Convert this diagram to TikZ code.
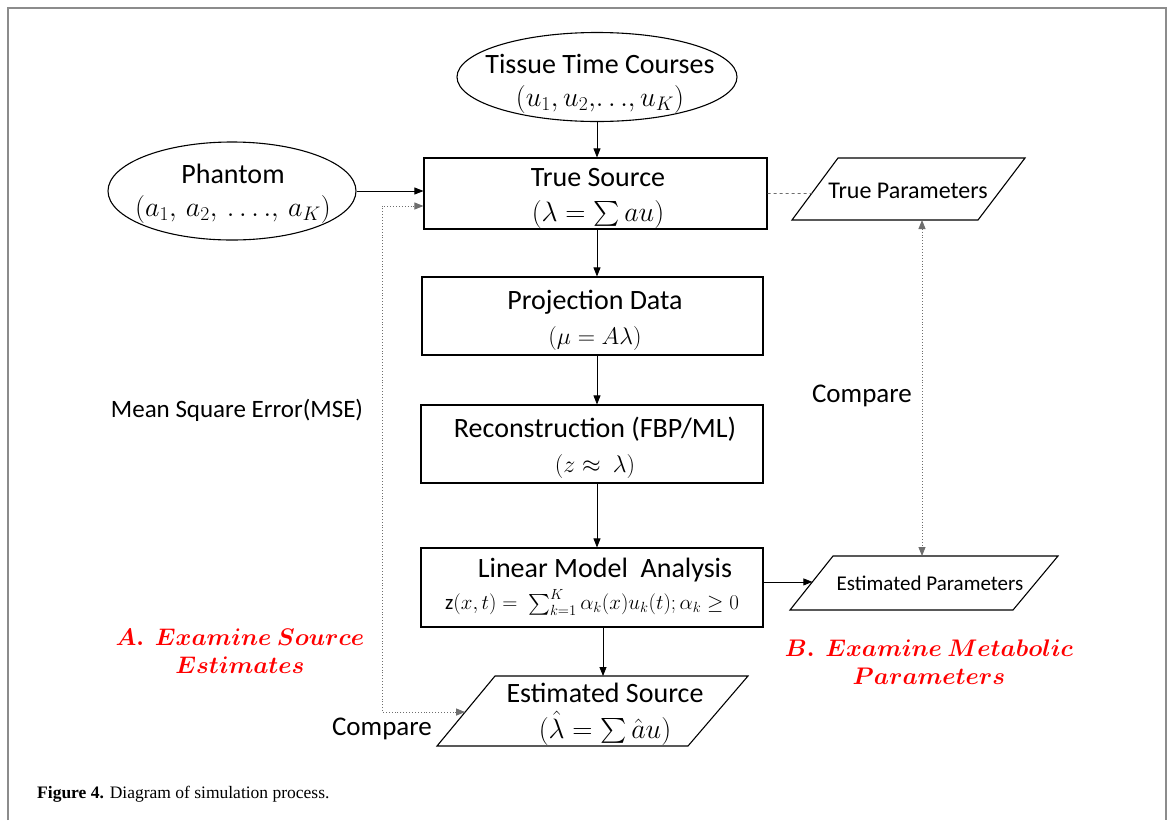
\RequirePackage{fix-cm}
\documentclass[tikz,border=0pt]{standalone}
\usepackage{amsmath}
\usepackage[no-math]{fontspec}
\setmainfont{Carlito}
\newfontfamily\capfont{Liberation Serif}
\usetikzlibrary{arrows.meta,shapes.geometric,calc}
\definecolor{framec}{HTML}{8C8C8C}
\definecolor{dotc}{HTML}{6E6E6E}
\definecolor{redt}{HTML}{FF0000}
\begin{document}
\begin{tikzpicture}[
  x=1pt, y=-1pt,
  box/.style={draw, line width=1.1pt, inner sep=0pt},
  ell/.style={draw, ellipse, line width=1.1pt, inner sep=0pt},
  para/.style={draw, line width=1.1pt, line join=miter},
  txt/.style={inner sep=0pt, align=center, font=\fontsize{28}{32}\selectfont},
  arr/.style={-{Triangle[length=9pt,width=7pt]}, line width=0.8pt},
  dotarr/.style={{Triangle[length=9pt,width=7pt]}-{Triangle[length=9pt,width=7pt]}, dotted, dotc, line width=0.9pt},
  dashln/.style={dashed, dotc, line width=0.9pt},
  lab/.style={inner sep=0pt, font=\fontsize{27}{31}\selectfont},
  redlab/.style={inner sep=0pt, align=center, text=redt, font=\fontsize{24}{28}\selectfont\boldmath},
]
\useasboundingbox (0,0) rectangle (1173,820);
\draw[framec, line width=1.5pt] (8,820) -- (8,8) -- (1166,8) -- (1166,820);

% ellipses
\node[ell, minimum width=280pt, minimum height=89pt] (ttc) at (597,77) {};
\node[txt] (ttct) at (600,84) {Tissue Time Courses\\[1pt]$(u_1, u_2,\!\ldots\!, u_K)$};
\node[ell, minimum width=248pt, minimum height=98pt] (ph) at (232,191) {};
\node[txt] (pht) at (233,194) {Phantom\\[1pt]$(a_1,\, a_2,\, \ldots.,\, a_K)$};

% boxes
\node[box, minimum width=343pt, minimum height=71pt] (ts) at (595.5,193.5) {};
\node[txt] (tst) at (598,198) {True Source\\[3pt]$(\lambda = \sum au)$};
\node[box, minimum width=341pt, minimum height=78pt] (pd) at (592.5,316) {};
\node[txt] (pdt) at (595,320) {Projection Data\\[3pt]{\fontsize{24}{28}\selectfont$(\mu = A\lambda)$}};
\node[box, minimum width=342pt, minimum height=78pt] (rc) at (592,444) {};
\node[txt] (rct) at (595,448) {Reconstruction (FBP/ML)\\[3pt]{\fontsize{24}{28}\selectfont$(z \approx\ \lambda)$}};
\node[box, minimum width=342pt, minimum height=79pt] (lm) at (592,587.5) {};
\node[txt] (lmt) at (592,587) {\hspace*{26pt}Linear Model\ \ Analysis\\[0pt]{\fontsize{21}{25}\selectfont z$(x,t) =\ \sum_{k=1}^{K} \alpha_k(x) u_k(t); \alpha_k \geq 0$}};

% parallelograms
\coordinate (tpTL) at (838,158); \coordinate (tpTR) at (1025,158);
\coordinate (tpBR) at (978,220);  \coordinate (tpBL) at (792,220);
\draw[para] (tpTL) -- (tpTR) -- (tpBR) -- (tpBL) -- cycle;
\node[lab, font=\fontsize{24}{28}\selectfont] (tpt) at (908,191) {True Parameters};

\coordinate (epTL) at (833,556); \coordinate (epTR) at (1058,556);
\coordinate (epBR) at (1013,610); \coordinate (epBL) at (790,610);
\draw[para] (epTL) -- (epTR) -- (epBR) -- (epBL) -- cycle;
\node[lab, font=\fontsize{21}{25}\selectfont] (ept) at (930,583) {Estimated Parameters};

\coordinate (esTL) at (495,676); \coordinate (esTR) at (748,676);
\coordinate (esBR) at (688,746); \coordinate (esBL) at (437,746);
\draw[para] (esTL) -- (esTR) -- (esBR) -- (esBL) -- cycle;
\node[txt] (est) at (605,714) {Estimated Source\\[4pt]$(\hat{\lambda} = \sum \hat{a}u)$};

% labels
\node[lab] (cmp1) at (862,396) {Compare};
\node[lab] (cmp2) at (382,729) {Compare};
\node[lab, font=\fontsize{25}{29}\selectfont] (mse) at (237,410) {Mean Square Error(MSE)};
\node[redlab] (ra) at (240,651) {$A.\ \ Examine\ Source$\\$Estimates$};
\node[redlab] (rb) at (929,662) {$B.\ \ Examine\ Metabolic$\\$Parameters$};
\node[anchor=base west, inner sep=0pt, font=\capfont\fontsize{17.5}{21}\selectfont] (cap) at (37,798) {\textbf{Figure 4.} Diagram of simulation process.};

% connector end points on the parallelograms
\coordinate (tpL) at ($(tpBL)!0.427!(tpTL)$);
\coordinate (tpB) at (922,220);
\coordinate (epT) at (922,556);
\coordinate (epL) at ($(epBL)!0.52!(epTL)$);
\coordinate (esL) at ($(esBL)!0.485!(esTL)$);
\coordinate (esT) at (603,676);
\coordinate (mseTop) at (382,206);

% connectors
\draw[arr] (ttc.south) -- (ttc.south |- ts.north);
\draw[arr] ([xshift=1.5pt]ts.south) -- ([xshift=1.5pt]ts.south |- pd.north);
\draw[arr] ([xshift=4.5pt]pd.south) -- ([xshift=4.5pt]pd.south |- rc.north);
\draw[arr] ([xshift=5pt]rc.south) -- ([xshift=5pt]rc.south |- lm.north);
\draw[arr] (esT |- lm.south) -- (esT);
\draw[arr] (ph.east) -- (ph.east -| ts.west);
\draw[arr] (lm.east |- epL) -- (epL);
\draw[dashln] (ts.east) -- (tpL);
\draw[dotarr] (esL) -| (mseTop) -- (mseTop -| ts.west);
\draw[dotarr] (tpB) -- (epT);
\end{tikzpicture}
\end{document}
